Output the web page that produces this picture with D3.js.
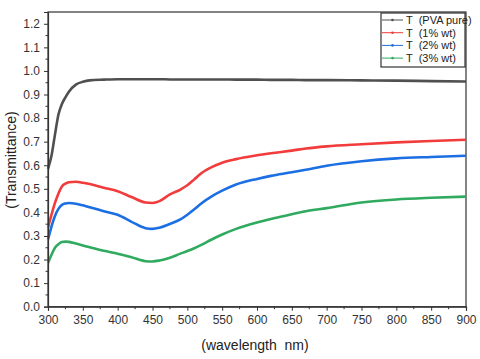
<!DOCTYPE html>
<html>
<head>
<meta charset="utf-8">
<script src="https://cdn.jsdelivr.net/npm/d3@7"></script>
<style>
body { margin: 0; background: #fff; }
text { font-family: "Liberation Sans", Arial, sans-serif; white-space: pre; }
</style>
</head>
<body>
<script>
var width = 480;
var height = 359;

// wavelength (nm) sample points
var wavelengths = [300, 305, 310, 315, 320, 325, 330, 340, 350, 360, 380, 400, 420, 440, 450, 460, 475, 490, 500, 510, 520, 535, 550, 570, 600, 620, 650, 670, 700, 750, 800, 850, 900];
// transmittance
var pvaPure = [0.585, 0.64, 0.73, 0.815, 0.86, 0.888, 0.912, 0.942, 0.954, 0.96, 0.963, 0.965, 0.965, 0.965, 0.965, 0.965, 0.964, 0.964, 0.964, 0.964, 0.964, 0.964, 0.964, 0.963, 0.963, 0.962, 0.962, 0.961, 0.961, 0.960, 0.959, 0.957, 0.955];
var wt1 = [0.335, 0.39, 0.44, 0.48, 0.51, 0.522, 0.528, 0.53, 0.526, 0.52, 0.505, 0.49, 0.465, 0.442, 0.44, 0.448, 0.476, 0.497, 0.515, 0.54, 0.566, 0.592, 0.611, 0.626, 0.642, 0.651, 0.662, 0.671, 0.68, 0.689, 0.697, 0.703, 0.708];
var wt2 = [0.285, 0.34, 0.385, 0.415, 0.432, 0.438, 0.44, 0.437, 0.43, 0.422, 0.405, 0.39, 0.36, 0.333, 0.33, 0.335, 0.351, 0.37, 0.39, 0.413, 0.438, 0.468, 0.492, 0.518, 0.542, 0.555, 0.57, 0.581, 0.598, 0.617, 0.629, 0.635, 0.64];
var wt3 = [0.185, 0.22, 0.25, 0.265, 0.274, 0.276, 0.275, 0.268, 0.26, 0.252, 0.237, 0.225, 0.21, 0.193, 0.192, 0.196, 0.208, 0.225, 0.236, 0.248, 0.262, 0.285, 0.306, 0.33, 0.357, 0.372, 0.392, 0.405, 0.418, 0.442, 0.455, 0.462, 0.467];

var seriesNames = ["T  (PVA pure)", "T  (1% wt)", "T  (2% wt)", "T  (3% wt)"];
var seriesColors = ["#505050", "#f23b3b", "#1c6fe3", "#2faa5f"];
var seriesValues = [pvaPure, wt1, wt2, wt3];

var xTicks = d3.range(300, 901, 50);
var yTicks = d3.range(0, 12.01, 1).map(function(d){ return d / 10; });

var plotLeft = 48, plotRight = 466, plotTop = 12, plotBottom = 306.7;

var svg = d3.select("body").append("svg")
	.attr("width", width)
	.attr("height", height);

var x = d3.scaleLinear().domain([300, 900]).range([plotLeft, plotRight]);
var y = d3.scaleLinear().domain([0, 1.25]).range([plotBottom, plotTop]);

// frame
svg.append("rect")
	.attr("x", plotLeft).attr("y", plotTop)
	.attr("width", plotRight - plotLeft).attr("height", plotBottom - plotTop)
	.attr("fill", "none").attr("stroke", "#333").attr("stroke-width", 1.2);

var line = d3.line()
	.x(function(d){ return x(d[0]); })
	.y(function(d){ return y(d[1]); })
	.curve(d3.curveMonotoneX);

seriesValues.forEach(function(vals, i){
	var pts = wavelengths.map(function(w, j){ return [w, vals[j]]; });
	svg.append("path")
		.datum(pts)
		.attr("d", line)
		.attr("fill", "none")
		.attr("stroke", seriesColors[i])
		.attr("stroke-width", 2.6);
});

// axes
var xAxis = d3.axisBottom(x).tickValues(xTicks).tickSize(4).tickPadding(5);
var yAxis = d3.axisLeft(y).tickValues(yTicks).tickSize(4).tickPadding(4)
	.tickFormat(d3.format(".1f"));

var gx = svg.append("g").attr("transform", "translate(0," + plotBottom + ")").call(xAxis);
var gy = svg.append("g").attr("transform", "translate(" + plotLeft + ",0)").call(yAxis);

[gx, gy].forEach(function(g){
	g.select(".domain").attr("stroke", "#333").attr("stroke-width", 1.2);
	g.selectAll(".tick line").attr("stroke", "#333");
	g.selectAll(".tick text").attr("fill", "#333").style("font-size", "12px")
		.style("font-family", "'Liberation Sans', Arial, sans-serif");
});

// minor ticks
gx.selectAll(".minor").data(d3.range(325, 900, 50)).enter().append("line")
	.attr("x1", function(d){ return x(d); }).attr("x2", function(d){ return x(d); })
	.attr("y1", 0).attr("y2", 2.5).attr("stroke", "#333");
gy.selectAll(".minor").data(d3.range(0.05, 1.25, 0.1)).enter().append("line")
	.attr("y1", function(d){ return y(d); }).attr("y2", function(d){ return y(d); })
	.attr("x1", 0).attr("x2", -2.5).attr("stroke", "#333");

// axis titles
svg.append("text")
	.attr("x", 255).attr("y", 350)
	.attr("text-anchor", "middle")
	.attr("fill", "#222")
	.style("font-size", "14px")
	.text("(wavelength  nm)");

svg.append("text")
	.attr("transform", "translate(16,160) rotate(-90)")
	.attr("text-anchor", "middle")
	.attr("fill", "#222")
	.style("font-size", "14px")
	.text("(Transmittance)");

// legend
var legend = svg.append("g").attr("transform", "translate(381,13)");
legend.append("rect")
	.attr("width", 84).attr("height", 54)
	.attr("fill", "#fff").attr("stroke", "#333").attr("stroke-width", 1.2);

seriesNames.forEach(function(name, i){
	var ly = 7 + i * 12.7;
	legend.append("line")
		.attr("x1", 1).attr("x2", 22).attr("y1", ly).attr("y2", ly)
		.attr("stroke", seriesColors[i]).attr("stroke-width", 1);
	legend.append("circle")
		.attr("cx", 11.5).attr("cy", ly).attr("r", 1.3)
		.attr("fill", seriesColors[i]);
	legend.append("text")
		.attr("x", 25).attr("y", ly + 4)
		.attr("fill", "#222")
		.style("font-size", "11px")
		.text(name);
});
</script>
</body>
</html>
